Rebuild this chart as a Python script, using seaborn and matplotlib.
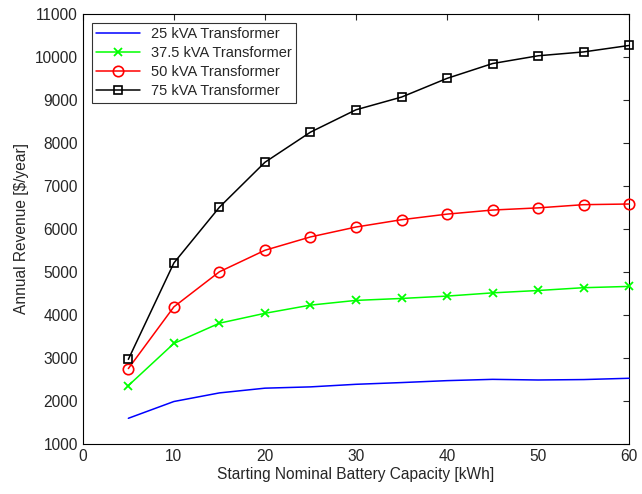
import pandas as pd
import numpy as np
import matplotlib.pyplot as plt
import seaborn as sns

capacity = [5, 10, 15, 20, 25, 30, 35, 40, 45, 50, 55, 60]
rev_25 = [1600, 1990, 2190, 2300, 2330, 2390, 2430, 2475, 2505, 2490, 2500, 2530]
rev_37 = [2360, 3340, 3810, 4040, 4230, 4340, 4385, 4440, 4515, 4570, 4635, 4665]
rev_50 = [2755, 4190, 5005, 5505, 5815, 6045, 6215, 6345, 6440, 6490, 6565, 6580]
rev_75 = [2970, 5210, 6505, 7550, 8250, 8770, 9065, 9500, 9845, 10025, 10115, 10265]

labels = ["25 kVA Transformer", "37.5 kVA Transformer", "50 kVA Transformer", "75 kVA Transformer"]

sns.set_style("white")
plt.rcParams['font.family'] = ['Liberation Sans', 'DejaVu Sans']
plt.rcParams['xtick.direction'] = 'in'
plt.rcParams['ytick.direction'] = 'in'

fig = plt.figure(figsize=(6.42, 4.94), dpi=100)
ax = fig.add_axes([0.129, 0.101, 0.851, 0.871])

styles = [
    dict(color="#0000ff", marker="None"),
    dict(color="#00ff00", marker="x", markersize=5.5, markeredgecolor="#00ff00",
         markeredgewidth=1.3),
    dict(color="#ff0000", marker="o", markersize=7.5, markerfacecolor="none",
         markeredgecolor="#ff0000", markeredgewidth=1.2),
    dict(color="#000000", marker="s", markersize=6, markerfacecolor="none",
         markeredgecolor="#000000", markeredgewidth=1.2),
]
for vals, lab, st in zip([rev_25, rev_37, rev_50, rev_75], labels, styles):
    sns.lineplot(x=capacity, y=vals, ax=ax, label=lab, linewidth=1.1,
                 linestyle="-", clip_on=False, zorder=3, **st)

ax.set_xlim(0, 60)
ax.set_ylim(1000, 11000)
ax.set_xticks(np.arange(0, 61, 10))
ax.set_yticks(np.arange(1000, 11001, 1000))
ax.tick_params(axis='both', labelsize=11.2, top=True, right=True, length=4, width=0.8)
for s in ax.spines.values():
    s.set_visible(True)
    s.set_color("black")
    s.set_linewidth(0.8)
ax.set_xlabel("Starting Nominal Battery Capacity [kWh]", fontsize=11.2, labelpad=2)
ax.set_ylabel("Annual Revenue [$/year]", fontsize=11.2)
leg = ax.legend(loc="upper left", fontsize=10.5, frameon=True, fancybox=False,
                edgecolor="black", borderaxespad=0.6, handlelength=3.0,
                labelspacing=0.35, borderpad=0.3)
leg.get_frame().set_linewidth(0.8)

plt.savefig("out.png", dpi=100)
plt.close()
